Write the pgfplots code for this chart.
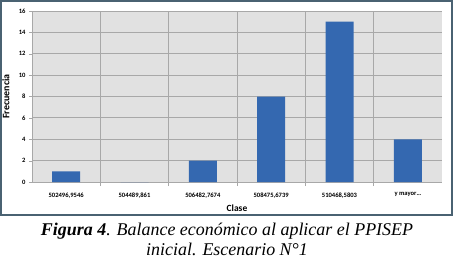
\documentclass[border=0pt]{standalone}
\usepackage{pgfplots}
\pgfplotsset{compat=1.18}
\usepackage{fontspec}
\setmainfont{Carlito}
\newfontfamily\capfont{Liberation Serif}
\definecolor{barblue}{HTML}{3468B0}
\definecolor{plotbg}{HTML}{E1E1E1}
\definecolor{gridc}{HTML}{A8A8A8}
\definecolor{framec}{HTML}{4A6272}
\begin{document}
\begin{tikzpicture}[x=1bp,y=1bp]
\path[use as bounding box] (-32,-83) rectangle (422,182);
\draw[framec,line width=1.8bp] (-31,181) rectangle (420,-33);
\begin{axis}[
  at={(0,0)}, anchor=south west,
  scale only axis, width=410bp, height=171bp,
  xmin=-0.5, xmax=5.5, ymin=0, ymax=16,
  axis background/.style={fill=plotbg},
  xtick={0,1,2,3,4,5},
  xticklabels={{502496,9546},{504489,861},{506482,7674},{508475,6739},{510468,5803},{y mayor\ldots}},
  minor xtick={0.5,1.5,2.5,3.5,4.5},
  ytick={0,2,4,6,8,10,12,14,16},
  ymajorgrids, xminorgrids,
  grid style={gridc, line width=0.8bp},
  minor grid style={gridc, line width=0.8bp},
  major x tick style={draw=none},
  minor x tick style={gridc, line width=0.8bp},
  minor tick length=4bp,
  major tick length=3bp,
  ytick style={gridc},
  tick align=outside,
  axis x line*=bottom, axis y line*=left,
  x axis line style={gridc, line width=0.8bp, -},
  y axis line style={gridc, line width=0.8bp, -},
  /pgf/number format/assume math mode=true,
  tick label style={font=\fontsize{6.6}{7.5}\selectfont\bfseries},
  xticklabel style={yshift=-4bp},
  xlabel={Clase}, ylabel={Frecuencia},
  xlabel style={font=\fontsize{9.5}{10}\selectfont\bfseries, yshift=-0.5bp},
  ylabel style={font=\fontsize{10}{11}\selectfont\bfseries, yshift=2.5bp},
  clip=false,
]
\addplot[ybar, bar width=28bp, fill=barblue, draw=none]
  coordinates {(0,1) (1,0) (2,2) (3,8) (4,15) (5,4)};
\end{axis}
\node[font=\capfont\fontsize{18}{20}\selectfont\itshape, align=center] at (195,-57)
  {\textbf{Figura 4}. Balance económico al aplicar el PPISEP\\inicial. Escenario N°1};
\end{tikzpicture}
\end{document}
